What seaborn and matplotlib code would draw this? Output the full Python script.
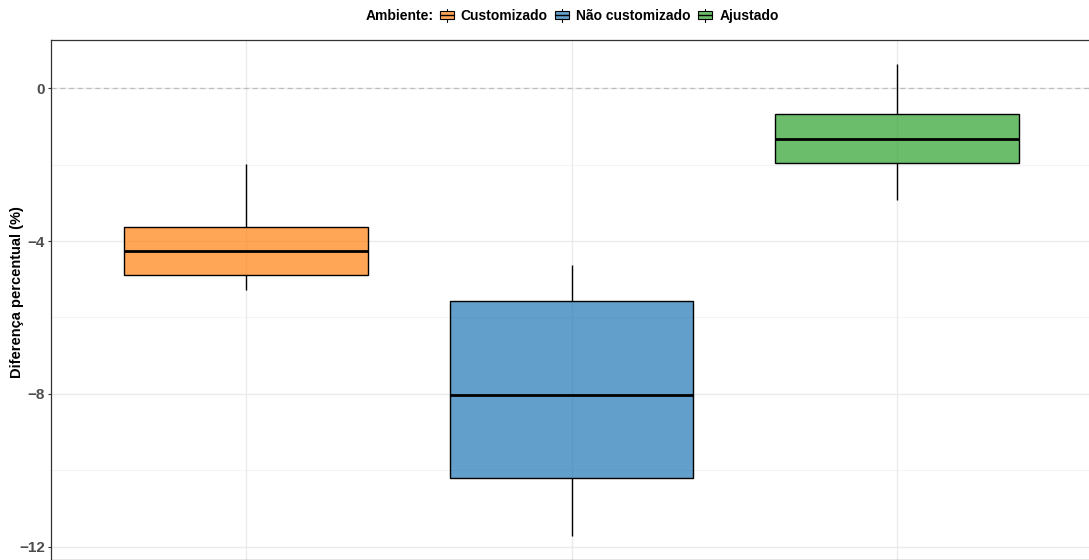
import numpy as np
import pandas as pd
import matplotlib
matplotlib.use("Agg")
import matplotlib.pyplot as plt
from matplotlib.patches import Rectangle
from matplotlib.lines import Line2D
from matplotlib.legend_handler import HandlerBase
from matplotlib.colors import to_rgba
import seaborn as sns

# Five-number summaries (min, Q1, median, Q3, max) per environment, in %
ambientes = ["Customizado", "Não customizado", "Ajustado"]
customizado = [-5.28, -4.89, -4.26, -3.63, -1.99]
nao_customizado = [-11.71, -10.20, -8.03, -5.57, -4.63]
ajustado = [-2.93, -1.96, -1.33, -0.68, 0.63]
cores = ["#FF7F0E", "#1F77B4", "#2CA02C"]
y_ticks = [0, -4, -8, -12]

valores = {"Customizado": customizado,
           "Não customizado": nao_customizado,
           "Ajustado": ajustado}
df = pd.DataFrame([(amb, v) for amb in ambientes for v in valores[amb]],
                  columns=["Ambiente", "Diferenca"])

sns.set_theme(style="white")
plt.rcParams["font.family"] = ["Liberation Sans", "DejaVu Sans"]
plt.rcParams["font.weight"] = "bold"
plt.rcParams["text.color"] = "black"

fig = plt.figure(figsize=(10.89, 5.6), dpi=100)
W, H = 1089, 560
ax = fig.add_axes([51 / W, 0 / H, (1092 - 51) / W, (560 - 40) / H])

# Background grid (major + minor) and zero reference line
for y in [-12, -8, -4, 0]:
    ax.axhline(y, color="#EBEBEB", lw=1.0, zorder=0)
for y in [-10, -6, -2]:
    ax.axhline(y, color="#F4F4F4", lw=0.8, zorder=0)
for x in range(3):
    ax.axvline(x, color="#EBEBEB", lw=1.0, zorder=0)
ax.axhline(0, color="#BDBDBD", lw=0.9, ls=(0, (4, 3)), zorder=0.5)

pal = dict(zip(ambientes, cores))
sns.boxplot(data=df, x="Ambiente", y="Diferenca", hue="Ambiente",
            order=ambientes, hue_order=ambientes, palette=pal,
            width=0.75, whis=(0, 100), showcaps=False, saturation=1,
            linecolor="black", linewidth=1.0, legend=False,
            medianprops={"linewidth": 2.0, "color": "black"},
            ax=ax)

for patch, c in zip(ax.patches, cores):
    patch.set_facecolor(to_rgba(c, 0.7))
    patch.set_edgecolor("black")
    patch.set_zorder(2)

ax.set_xlim(-0.6, 2.6)
ax.set_ylim(-12.34, 1.255)
ax.set_yticks(y_ticks)
ax.set_yticklabels([f"{t}".replace("-", "\u2212") for t in y_ticks])
ax.set_xticks([])
ax.set_xlabel("")
ax.set_ylabel("Diferença percentual (%)", fontsize=10.5, fontweight="bold",
              color="black")
ax.yaxis.set_label_coords((24 - 51) / (1092 - 51), (560 - 292) / 520)
ax.tick_params(axis="y", left=True, length=2.3, width=0.8, color="#333333",
               labelsize=11, labelcolor="#4D4D4D", pad=2)
for s in ax.spines.values():
    s.set_color("#333333")
    s.set_linewidth(0.9)


class BoxGlyph(HandlerBase):
    def create_artists(self, legend, orig_handle, xdescent, ydescent,
                       width, height, fontsize, trans):
        fc = orig_handle.get_facecolor()
        x0, y0 = -xdescent, -ydescent
        rect = Rectangle((x0, y0 + 0.2 * height), width, 0.6 * height,
                         facecolor=fc, edgecolor="black", lw=0.8,
                         transform=trans)
        cx = x0 + width / 2
        med = Line2D([x0, x0 + width], [y0 + 0.5 * height] * 2,
                     color="black", lw=1.0, transform=trans)
        w1 = Line2D([cx, cx], [y0, y0 + 0.2 * height], color="black",
                    lw=0.8, transform=trans)
        w2 = Line2D([cx, cx], [y0 + 0.8 * height, y0 + height],
                    color="black", lw=0.8, transform=trans)
        return [rect, w1, w2, med]


handles = [Rectangle((0, 0), 1, 1, facecolor=to_rgba(c, 0.7)) for c in cores]
fig.text(366 / W, 1 - 16 / H, "Ambiente:", fontsize=10, fontweight="bold",
         ha="left", va="center", color="black")
fig.legend(handles, ambientes, handler_map={Rectangle: BoxGlyph()},
           loc="center left", bbox_to_anchor=(440 / W, 1 - 16 / H),
           ncol=3, frameon=False, handlelength=1.0, labelcolor="black",
           handleheight=1.1, handletextpad=0.5, columnspacing=0.55,
           borderpad=0, borderaxespad=0, prop={"weight": "bold", "size": 10})

fig.savefig("out.png", dpi=100)
